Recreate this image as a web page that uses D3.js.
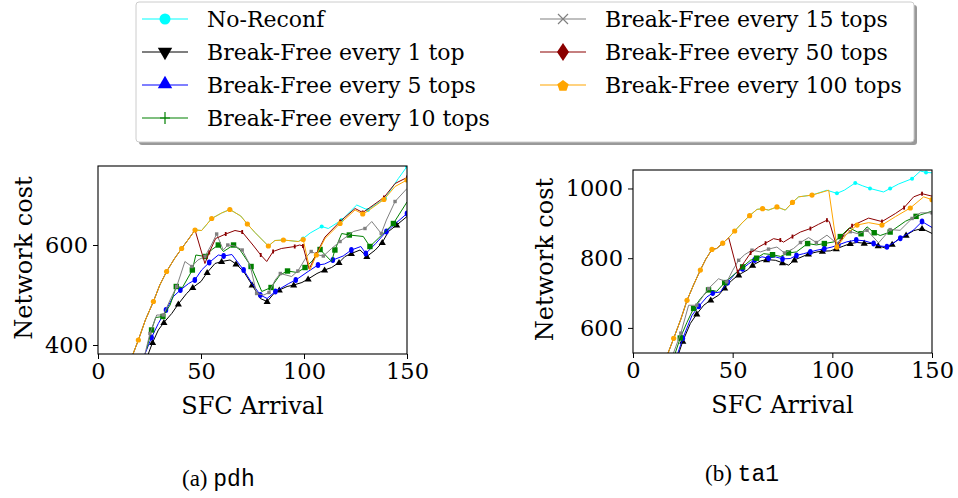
<!DOCTYPE html>
<html>
<head>
<meta charset="utf-8">
<script src="https://cdn.jsdelivr.net/npm/d3@7"></script>
<style>
  body { margin: 0; background: #fff; }
  svg text { font-family: "DejaVu Serif", serif; fill: #000; }
</style>
</head>
<body>
<div id="chart-div"></div>
<script>
// series names, in legend order
const seriesNames = ["No-Reconf", "Break-Free every 1 top", "Break-Free every 5 tops",
    "Break-Free every 10 tops", "Break-Free every 15 tops", "Break-Free every 50 tops",
    "Break-Free every 100 tops"];

const xTicks = [0, 50, 100, 150];
const pdhYTicks = [400, 600];
const ta1YTicks = [600, 800, 1000];

// ---- pdh: [SFC arrival, network cost]
const pdhShared = [[17,382],[19.6,410],[23,450],[26.9,487],[30,520],[33.3,547],[37,572],[40.6,593],[44,612],[47.1,630]];
const pdhNoReconf = pdhShared.concat([[50.3,629],[55.2,653],[60,664],[64,671],[69.3,658],[72.5,642],[76.2,625],[82.7,598],[85.9,609],[90,610],[97.2,607],[99.6,613],[103,624],[108.6,637],[111.8,633],[118.3,650],[125.6,680],[131,670],[133,676],[139.3,693],[145.8,733],[150,757]]);
const pdhEvery100 = pdhShared.concat([[50.3,629],[55.2,653],[60,664],[64,671],[69.3,658],[72.5,642],[76.2,625],[82.7,598],[85.9,609],[90,610],[97.2,607],[99.6,611],[102.9,550],[106,580],[110.2,613],[117.5,643],[124.8,670],[128.5,662],[131,668],[138.8,691],[144.2,717],[150,730]]);
const pdhEvery50 = pdhShared.concat([[51.9,563],[54,585],[57.1,613],[62,622],[66.5,629],[70,626],[75.2,600],[79,580],[81.9,567],[85,587],[89,593],[95.5,597],[97.9,600],[99.5,598],[102.5,552],[106,582],[110.2,616],[117.5,647],[124.8,673],[128.5,665],[131,672],[138.8,695],[144.2,723],[150,735]]);
const pdhEvery15 = [[22.8,382],[25.2,423],[28.5,460],[31.7,460],[35,490],[38.2,517],[42.2,567],[45.5,557],[48.5,570],[51.9,577],[55,600],[57.6,622],[60.8,590],[63,600],[66.5,598],[70,590],[73.8,560],[77,503],[80.5,500],[83,505],[86,530],[88.5,543],[94,537],[97,548],[101.3,577],[103.5,587],[107,580],[109.4,578],[113.4,593],[117.5,607],[124,627],[129.6,633],[132.9,647],[137.5,623],[140,650],[144.2,687],[150,713]];
const pdhEvery10 = [[23.6,392],[26,430],[28,455],[31.5,457],[35,480],[38,517],[41,515],[45.8,550],[47.5,580],[52,577],[55,590],[58.4,600],[60.9,587],[65.8,600],[69,590],[74.3,557],[79.5,507],[84,515],[88.3,540],[92,548],[96.7,545],[100.5,555],[104,568],[107.8,591],[113.4,567],[115,590],[118.3,623],[122,620],[128.8,617],[132,597],[136,613],[143.4,643],[150,686]];
const pdhEvery5 = [[22.8,382],[26,415],[29.3,443],[33,470],[36.6,497],[40,510],[44,523],[47,530],[50.3,550],[54,565],[58.4,580],[61,578],[65,581],[70.7,550],[74.8,523],[78.8,500],[82.1,493],[86.1,507],[92.6,523],[96,530],[102,547],[106.8,560],[110,562],[114,570],[119,578],[123,590],[127.6,597],[130,583],[134.8,603],[140,627],[145,645],[150,663]];
const pdhEvery1 = [[24.4,382],[26.5,405],[29.3,430],[32,445],[35.8,463],[39,482],[43,503],[46,515],[50,527],[53,545],[56.8,563],[60,567],[64.1,570],[67,562],[70.7,547],[74.8,520],[78.8,493],[82.1,487],[85.4,503],[88,510],[91.8,517],[95,520],[99,525],[102,532],[106.3,543],[110,550],[113.4,555],[117,565],[119.9,577],[123,583],[127.2,590],[130.5,577],[134.6,590],[138,605],[141,627],[145,640],[150,657]];

// ---- ta1
const ta1Shared = [[17.6,528],[20.4,570],[24,625],[27.1,679],[30.5,725],[33.8,766],[36.5,797],[39.6,825],[42,828],[45,843],[48,859]];
const ta1NoReconf = ta1Shared.concat([[51,878],[54.7,901],[58.5,922],[62.2,940],[65,942],[68,938],[72.2,947],[76.4,938],[80,960],[83.1,976],[89.8,981],[97.3,995],[102.3,986],[106,995],[111.5,1016],[115,1008],[118.9,1000],[125.7,990],[129,1000],[133.3,1013],[140,1028],[144.2,1050],[147,1046],[150,1045]]);
const ta1Every100 = ta1Shared.concat([[51,878],[54.7,901],[58.5,922],[62.2,940],[65,942],[68,938],[72.2,947],[76.4,938],[80,960],[83.1,976],[89.8,981],[98.2,995],[102.3,832],[107.4,871],[112.4,895],[118.2,902],[124.9,895],[131.6,919],[139.1,944],[145.8,976],[150,968]]);
const ta1Every50 = ta1Shared.concat([[52.5,761],[56,790],[59,815],[63,832],[66.5,843],[70.5,856],[73.9,852],[75.5,846],[80,862],[84,875],[89,885],[93,897],[97.3,909],[98.5,905],[102.3,831],[106,870],[109.9,893],[118.2,915],[124.9,905],[131.6,928],[136,945],[140.8,976],[145,985],[150,978]]);
const ta1Every15 = [[20.3,528],[24,585],[27.9,665],[32,665],[35,690],[37.9,713],[42.9,741],[47.1,732],[50,765],[53,794],[56,810],[59.7,823],[64,818],[68,826],[72.2,832],[76,815],[80.6,828],[84,845],[88.1,859],[92,845],[97.3,866],[102.3,842],[105,860],[109,876],[113,870],[117.4,880],[123.2,844],[129,882],[134,880],[140,914],[144.2,930],[150,930]];
const ta1Every10 = [[21.2,528],[23.7,571],[27,615],[30.4,656],[34,685],[37.9,709],[42,705],[46,730],[51.3,756],[55,775],[58.9,794],[62,800],[65.5,813],[70,810],[74,805],[78,815],[82,818],[87.6,842],[92,838],[96,842],[101,847],[104,862],[108.5,887],[114.4,870],[117.4,890],[121,873],[124,865],[129,875],[136.7,906],[142,920],[150,935]];
const ta1Every5 = [[22.5,528],[25,570],[29.6,636],[33,662],[37.1,689],[40,700],[43.8,703],[47.5,730],[51.3,756],[55,770],[58,784],[61,795],[64.7,804],[68,800],[71.4,804],[75,798],[78.9,799],[82,808],[85.6,813],[89,818],[92.3,823],[96,827],[99.8,832],[103,838],[107.3,847],[112,852],[116,850],[120.7,842],[124,835],[127.4,833],[131,845],[134.1,857],[140.8,881],[145,905],[150,888]];
const ta1Every1 = [[23,528],[25,562],[28.8,613],[32,640],[35.5,665],[39,680],[43,694],[46,715],[49.7,737],[53,752],[57.3,766],[60,780],[64,792],[67,796],[71.4,794],[75,787],[78.1,780],[81,795],[84.8,804],[88,812],[92.3,818],[95,820],[99,821],[102,827],[105.7,835],[109,842],[112.4,845],[116,843],[119.9,842],[123,836],[126.6,829],[130,840],[133.3,855],[137,866],[140.8,879],[145,885],[150,871]];

const colors = ["#00ffff", "#000000", "#0000ff", "#008000", "#808080", "#8b0000", "#ffa500"];

const svg = d3.select("#chart-div")
    .append("svg")
    .attr("width", 958)
    .attr("height", 498);

// plot markers (inside axes), smaller than the legend ones
function plotMarker(g, i, x, y) {
    const c = colors[i];
    if (i === 0) g.append("circle").attr("cx", x).attr("cy", y).attr("r", 2).attr("fill", c);
    else if (i === 1) g.append("path").attr("d", d3.symbol(d3.symbolTriangle, 22)()).attr("transform", `translate(${x},${y + 0.5})`).attr("fill", c);
    else if (i === 2) g.append("ellipse").attr("cx", x).attr("cy", y).attr("rx", 2.3).attr("ry", 3).attr("fill", c);
    else if (i === 3) g.append("rect").attr("x", x - 2.7).attr("y", y - 2.7).attr("width", 5.4).attr("height", 5.4).attr("fill", c);
    else if (i === 4) g.append("rect").attr("x", x - 1.7).attr("y", y - 1.7).attr("width", 3.4).attr("height", 3.4).attr("fill", c);
    else if (i === 5) g.append("rect").attr("x", x - 0.9).attr("y", y - 2).attr("width", 1.8).attr("height", 4).attr("fill", c);
    else g.append("circle").attr("cx", x).attr("cy", y).attr("r", 2.6).attr("fill", c);
}

function drawPanel(p) {
    const xScale = d3.scaleLinear().domain([0, 150]).range([p.left, p.right]);
    const yScale = d3.scaleLinear().domain(p.yDomain).range([p.bottom, p.top]);

    const clipId = "clip-" + p.name;
    svg.append("clipPath").attr("id", clipId)
        .append("rect")
        .attr("x", p.left).attr("y", p.top)
        .attr("width", p.right - p.left).attr("height", p.bottom - p.top);

    const g = svg.append("g").attr("clip-path", `url(#${clipId})`);
    const line = d3.line().x(d => xScale(d[0])).y(d => yScale(d[1]));

    p.series.forEach((data, i) => {
        g.append("path")
            .datum(data)
            .attr("d", line)
            .attr("fill", "none")
            .attr("stroke", colors[i])
            .attr("stroke-width", 1);
        const mg = g.append("g");
        data.forEach((d, k) => {
            if (k % 2 === 1) plotMarker(mg, i, xScale(d[0]), yScale(d[1]));
        });
    });

    // frame
    svg.append("rect")
        .attr("x", p.left).attr("y", p.top)
        .attr("width", p.right - p.left).attr("height", p.bottom - p.top)
        .attr("fill", "none").attr("stroke", "#000").attr("stroke-width", 1.1);

    // axes
    const xAxis = svg.append("g")
        .attr("transform", `translate(0,${p.bottom})`)
        .call(d3.axisBottom(xScale).tickValues(xTicks).tickSize(5).tickPadding(4));
    xAxis.select(".domain").remove();
    xAxis.selectAll("text").style("font-size", "22.5px").style("font-family", "DejaVu Serif");

    const yAxis = svg.append("g")
        .attr("transform", `translate(${p.left},0)`)
        .call(d3.axisLeft(yScale).tickValues(p.yTicks).tickFormat(d3.format("d")).tickSize(5).tickPadding(5));
    yAxis.select(".domain").remove();
    yAxis.selectAll("text").style("font-size", "22.5px").style("font-family", "DejaVu Serif");

    svg.append("text")
        .attr("x", (p.left + p.right) / 2)
        .attr("y", p.bottom + 60)
        .attr("text-anchor", "middle")
        .style("font-size", "24px")
        .text("SFC Arrival");

    svg.append("text")
        .attr("transform", `translate(${p.yLabelX},${(p.top + p.bottom) / 2 - 2}) rotate(-90)`)
        .attr("text-anchor", "middle")
        .style("font-size", "24px")
        .text("Network cost");

    const cap = svg.append("text")
        .attr("x", p.capX)
        .attr("y", p.capY)
        .style("font-size", "23px");
    cap.append("tspan").style("font-family", "Liberation Serif").text(p.capLetter + " ");
    cap.append("tspan").style("font-family", "Liberation Mono").text(p.name);
}

drawPanel({
    name: "pdh", left: 98, right: 407, top: 166, bottom: 354,
    yDomain: [382, 758], yTicks: pdhYTicks, yLabelX: 32,
    capX: 182, capY: 486, capLetter: "(a)",
    series: [pdhNoReconf, pdhEvery1, pdhEvery5, pdhEvery10, pdhEvery15, pdhEvery50, pdhEvery100]
});
drawPanel({
    name: "ta1", left: 633, right: 932, top: 170, bottom: 353,
    yDomain: [528, 1053], yTicks: ta1YTicks, yLabelX: 553,
    capX: 705, capY: 481, capLetter: "(b)",
    series: [ta1NoReconf, ta1Every1, ta1Every5, ta1Every10, ta1Every15, ta1Every50, ta1Every100]
});

// legend
const legend = svg.append("g");
legend.append("rect")
    .attr("x", 139).attr("y", 5).attr("width", 778).attr("height", 140)
    .attr("rx", 3).attr("fill", "#999");
legend.append("rect")
    .attr("x", 136).attr("y", 2).attr("width", 778).attr("height", 140)
    .attr("rx", 3).attr("fill", "#fff").attr("stroke", "#ccc");

function pentagon(x, y, r) {
    const pts = d3.range(5).map(k => {
        const a = -Math.PI / 2 + k * 2 * Math.PI / 5;
        return [x + r * Math.cos(a), y + 1 + r * Math.sin(a)];
    });
    return "M" + pts.map(q => q.join(",")).join("L") + "Z";
}

function legendMarker(i, x, y) {
    const c = colors[i];
    if (i === 0) legend.append("circle").attr("cx", x).attr("cy", y).attr("r", 5.5).attr("fill", c);
    else if (i === 1) legend.append("path").attr("d", d3.symbol(d3.symbolTriangle, 90)()).attr("transform", `translate(${x},${y}) rotate(180)`).attr("fill", c);
    else if (i === 2) legend.append("path").attr("d", d3.symbol(d3.symbolTriangle, 90)()).attr("transform", `translate(${x},${y - 1})`).attr("fill", c);
    else if (i === 3) legend.append("path").attr("d", `M${x - 5},${y}H${x + 5}M${x},${y - 6}V${y + 6}`).attr("stroke", c).attr("stroke-width", 1.2);
    else if (i === 4) legend.append("path").attr("d", `M${x - 5},${y - 5}L${x + 5},${y + 5}M${x - 5},${y + 5}L${x + 5},${y - 5}`).attr("stroke", c).attr("stroke-width", 1.2);
    else if (i === 5) legend.append("path").attr("d", `M${x},${y - 9}L${x + 6},${y}L${x},${y + 9}L${x - 6},${y}Z`).attr("fill", c);
    else legend.append("path").attr("d", pentagon(x, y, 6)).attr("fill", c);
}

const rowY = [19, 52, 85, 118];
seriesNames.forEach((name, i) => {
    const col = i < 4 ? 0 : 1;
    const row = i < 4 ? i : i - 4;
    const lx = col === 0 ? 142 : 540;
    const y = rowY[row];
    legend.append("line")
        .attr("x1", lx).attr("x2", lx + 46).attr("y1", y).attr("y2", y)
        .attr("stroke", colors[i]).attr("stroke-width", 1.2);
    legendMarker(i, lx + 23, y);
    legend.append("text")
        .attr("x", lx + 65).attr("y", y + 8)
        .style("font-size", "22px")
        .text(name);
});
</script>
</body>
</html>
